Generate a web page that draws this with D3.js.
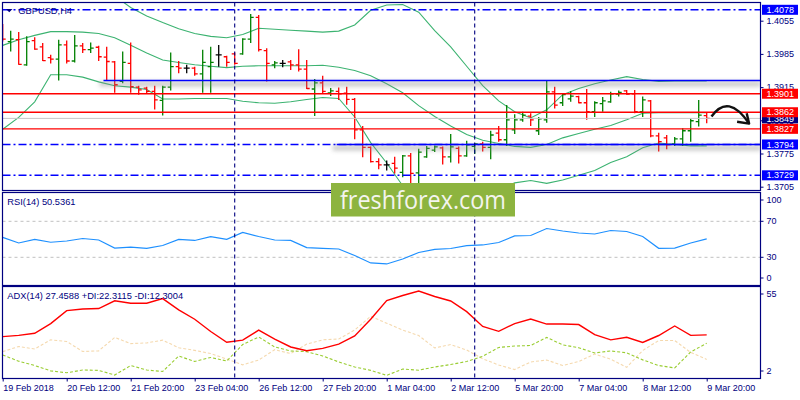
<!DOCTYPE html>
<html>
<head>
<meta charset="utf-8">
<script src="https://cdn.jsdelivr.net/npm/d3@7"></script>
<style>
  body { margin: 0; background: #fff; }
  svg { display: block; font-family: "Liberation Sans", Arial, sans-serif; }
</style>
</head>
<body>
<div id="chart"></div>
<script>
// GBPUSD H4 bars, one per 4 hours (O/H/L/C)
const open = [1.4043, 1.4011, 1.4015, 1.3962, 1.4013, 1.4000, 1.3977, 1.3974, 1.4004, 1.3970,
  1.4002, 1.3994, 1.3999, 1.3978, 1.3968, 1.3927, 1.3965, 1.3915, 1.3913, 1.3906,
  1.3887, 1.3915, 1.3958, 1.3955, 1.3955, 1.3943, 1.3958, 1.3983, 1.3979, 1.3985,
  1.3985, 1.4016, 1.4062, 1.3992, 1.3962, 1.3965, 1.3968, 1.3962, 1.3953, 1.3911,
  1.3924, 1.3903, 1.3906, 1.3902, 1.3889, 1.3825, 1.3788, 1.3758, 1.3751, 1.3754,
  1.3735, 1.3770, 1.3734, 1.3768, 1.3782, 1.3787, 1.3768, 1.3786, 1.3770, 1.3790,
  1.3795, 1.3788, 1.3818, 1.3804, 1.3825, 1.3846, 1.3854, 1.3823, 1.3846, 1.3905,
  1.3882, 1.3890, 1.3895, 1.3882, 1.3863, 1.3880, 1.3884, 1.3900, 1.3907, 1.3901,
  1.3863, 1.3886, 1.3812, 1.3808, 1.3795, 1.3806, 1.3823, 1.3842, 1.3855];
const high = [1.4048, 1.4034, 1.4031, 1.4022, 1.4020, 1.4008, 1.3983, 1.4015, 1.4013, 1.4025,
  1.4008, 1.4009, 1.4002, 1.4000, 1.3970, 1.3990, 1.4009, 1.3918, 1.3916, 1.3918,
  1.3918, 1.3988, 1.3970, 1.3962, 1.3958, 1.3994, 1.4000, 1.4004, 1.3981, 1.3988,
  1.4018, 1.4069, 1.4067, 1.3997, 1.3970, 1.3972, 1.3972, 1.3995, 1.3972, 1.3932,
  1.3939, 1.3913, 1.3914, 1.3916, 1.3892, 1.3833, 1.3790, 1.3765, 1.3760, 1.3768,
  1.3772, 1.3776, 1.3785, 1.3791, 1.3792, 1.3790, 1.3816, 1.3790, 1.3802, 1.3797,
  1.3800, 1.3823, 1.3833, 1.3877, 1.3858, 1.3863, 1.3860, 1.3852, 1.3930, 1.3916,
  1.3902, 1.3906, 1.3897, 1.3911, 1.3885, 1.3894, 1.3905, 1.3908, 1.3909, 1.3909,
  1.3895, 1.3888, 1.3819, 1.3814, 1.3810, 1.3828, 1.3849, 1.3888, 1.3861];
const low = [1.4011, 1.3990, 1.3962, 1.3960, 1.3994, 1.3970, 1.3965, 1.3929, 1.3965, 1.3967,
  1.3987, 1.3987, 1.3970, 1.3930, 1.3903, 1.3923, 1.3903, 1.3899, 1.3902, 1.3868,
  1.3855, 1.3908, 1.3944, 1.3944, 1.3939, 1.3903, 1.3903, 1.3958, 1.3958, 1.3962,
  1.3983, 1.4008, 1.3990, 1.3927, 1.3955, 1.3957, 1.3951, 1.3948, 1.3911, 1.3854,
  1.3901, 1.3896, 1.3888, 1.3878, 1.3805, 1.3767, 1.3756, 1.3742, 1.3739, 1.3733,
  1.3725, 1.3711, 1.3711, 1.3766, 1.3778, 1.3752, 1.3756, 1.3754, 1.3768, 1.3774,
  1.3779, 1.3763, 1.3800, 1.3791, 1.3816, 1.3842, 1.3833, 1.3814, 1.3840, 1.3870,
  1.3875, 1.3884, 1.3881, 1.3846, 1.3852, 1.3863, 1.3882, 1.3895, 1.3899, 1.3860,
  1.3852, 1.3809, 1.3779, 1.3784, 1.3791, 1.3791, 1.3800, 1.3832, 1.3839];
const close = [1.4016, 1.4016, 1.3963, 1.4011, 1.3995, 1.3971, 1.3974, 1.4004, 1.3970, 1.4002,
  1.3994, 1.3997, 1.3979, 1.3969, 1.3920, 1.3967, 1.3916, 1.3909, 1.3906, 1.3888,
  1.3915, 1.3958, 1.3955, 1.3955, 1.3943, 1.3967, 1.3967, 1.3983, 1.3967, 1.3965,
  1.4016, 1.4062, 1.3994, 1.3965, 1.3966, 1.3965, 1.3962, 1.3953, 1.3912, 1.3924,
  1.3906, 1.3907, 1.3901, 1.3889, 1.3825, 1.3788, 1.3758, 1.3751, 1.3751, 1.3744,
  1.3770, 1.3733, 1.3778, 1.3786, 1.3789, 1.3768, 1.3789, 1.3770, 1.3793, 1.3795,
  1.3788, 1.3814, 1.3804, 1.3846, 1.3846, 1.3856, 1.3846, 1.3848, 1.3905, 1.3877,
  1.3899, 1.3896, 1.3882, 1.3863, 1.3882, 1.3886, 1.3901, 1.3904, 1.3900, 1.3863,
  1.3888, 1.3812, 1.3800, 1.3793, 1.3806, 1.3823, 1.3844, 1.3856, 1.3849];

// indicator values read at every second bar (bar 0, 2, 4 ... 88)
const bbUpper = [1.4179, 1.4179, 1.4164, 1.4123, 1.4122, 1.4126, 1.4129, 1.4107, 1.4083, 1.4065,
  1.4051, 1.4038, 1.4028, 1.4022, 1.4019, 1.4026, 1.4039, 1.4037, 1.4035, 1.4033,
  1.4031, 1.4033, 1.4046, 1.4077, 1.4088, 1.4089, 1.4073, 1.4034, 1.4000, 1.3959,
  1.3918, 1.3886, 1.3863, 1.3850, 1.3867, 1.3899, 1.3912, 1.3922, 1.3930, 1.3937,
  1.3931, 1.3927, 1.3928, 1.3928, 1.3928];
const bbMiddle = [1.4003, 1.4015, 1.4024, 1.4032, 1.4032, 1.4031, 1.4028, 1.4019, 1.4003, 1.3987,
  1.3972, 1.3967, 1.3962, 1.3959, 1.3956, 1.3959, 1.3960, 1.3960, 1.3960, 1.3960,
  1.3961, 1.3957, 1.3950, 1.3939, 1.3922, 1.3903, 1.3876, 1.3853, 1.3833, 1.3815,
  1.3803, 1.3796, 1.3790, 1.3788, 1.3794, 1.3808, 1.3817, 1.3826, 1.3834, 1.3846,
  1.3860, 1.3861, 1.3861, 1.3861, 1.3861];
const bbLower = [1.3826, 1.3851, 1.3884, 1.3941, 1.3941, 1.3936, 1.3926, 1.3918, 1.3915, 1.3910,
  1.3890, 1.3890, 1.3891, 1.3891, 1.3891, 1.3885, 1.3882, 1.3881, 1.3884, 1.3889,
  1.3893, 1.3891, 1.3852, 1.3798, 1.3755, 1.3707, 1.3677, 1.3662, 1.3664, 1.3673,
  1.3683, 1.3698, 1.3713, 1.3718, 1.3712, 1.3719, 1.3729, 1.3739, 1.3756, 1.3768,
  1.3787, 1.3797, 1.3794, 1.3791, 1.3791];
const rsi = [52.2, 45.9, 49.8, 46.7, 48.1, 50.9, 49.2, 40.3, 41.4, 40.0,
  43.1, 49.8, 48.7, 52.9, 50.0, 57.6, 53.1, 49.2, 48.7, 40.7,
  40.0, 39.2, 32.0, 23.7, 22.6, 28.1, 35.3, 38.7, 39.8, 42.9,
  43.7, 46.4, 53.7, 54.2, 62.0, 59.2, 57.0, 55.9, 59.8, 58.7,
  53.1, 40.0, 40.3, 45.9, 50.5];
const adx = [26.4, 27.2, 28.5, 34.5, 42.5, 43.5, 43.8, 48.6, 47.1, 47.1,
  50.0, 43.0, 37.2, 29.6, 22.9, 24.2, 30.4, 24.9, 20.0, 17.7,
  19.1, 21.8, 26.8, 37.2, 48.7, 51.9, 54.7, 51.3, 48.5, 41.9,
  32.7, 29.7, 34.5, 37.3, 34.2, 34.2, 33.9, 27.6, 24.4, 26.0,
  22.8, 27.1, 33.0, 27.2, 27.5];
const plusDi = [15.0, 11.2, 8.5, 5.2, 4.0, 5.7, 5.5, 2.6, 8.5, 5.7,
  4.8, 14.4, 11.0, 13.5, 11.3, 21.5, 26.2, 20.0, 17.5, 17.1,
  14.4, 10.7, 7.6, 5.5, 2.4, 6.3, 5.6, 7.6, 9.1, 11.0,
  14.2, 19.7, 20.6, 20.9, 25.9, 21.3, 19.5, 16.3, 17.5, 16.4,
  12.0, 8.5, 7.0, 16.9, 22.3];
const minusDi = [17.1, 20.3, 18.7, 24.4, 23.4, 17.2, 17.6, 25.9, 22.1, 22.5,
  24.2, 19.5, 17.9, 15.9, 12.5, 8.9, 11.9, 18.3, 15.9, 21.8,
  24.4, 24.9, 30.5, 39.0, 34.7, 30.5, 27.1, 19.4, 21.5, 18.1,
  12.7, 8.8, 6.0, 10.7, 11.9, 8.5, 11.0, 15.6, 12.4, 7.4,
  17.8, 24.0, 24.0, 16.6, 12.3];

const priceTicks = [1.4055, 1.3985, 1.3915, 1.3845, 1.3775, 1.3705];
const timeLabels = ["19 Feb 2018", "20 Feb 12:00", "21 Feb 20:00", "23 Feb 04:00", "26 Feb 12:00",
  "27 Feb 20:00", "1 Mar 04:00", "2 Mar 12:00", "5 Mar 20:00", "7 Mar 04:00", "8 Mar 12:00", "9 Mar 20:00"];
const rsiTicks = [100, 70, 30, 0];
const rsiLevels = [70, 30];
const adxTicks = [55, 2];

const redLevels = [1.3901, 1.3862, 1.3827];
const dashLevels = [1.4078, 1.3794, 1.3729];
const trendLevels = [1.3929, 1.3794];
const trendStarts = [12.6, 41.75];
const bidPrice = 1.3849;
const separators = [29, 59];

const symbolLabel = "GBPUSD,H4";
const rsiLabel = "RSI(14) 50.5361";
const adxLabel = "ADX(14) 27.4588 +DI:22.3115 -DI:12.3004";

const navy = "#000080";
const left = 2.5, right = 760.5;
const panes = {
  main: { top: 2.5, bottom: 190.5 },
  rsi: { top: 192.5, bottom: 285.5 },
  adx: { top: 286.5, bottom: 378.5 }
};

const x = d3.scaleLinear().domain([0, 88]).range([2.7, 706.7]);
const y = d3.scaleLinear().domain([1.3705, 1.4055]).range([186.7, 20.7]);
const yRsi = d3.scaleLinear().domain([30, 70]).range([257.3, 221.3]);
const yAdx = d3.scaleLinear().domain([2, 55]).range([376, 290.5]);

const svg = d3.select("#chart")
  .append("svg")
  .attr("width", 800)
  .attr("height", 400);

const defs = svg.append("defs");
Object.entries(panes).forEach(([name, p]) => {
  defs.append("clipPath").attr("id", "clip-" + name)
    .append("rect")
    .attr("x", left).attr("y", p.top)
    .attr("width", right - left).attr("height", p.bottom - p.top);
});
defs.append("filter").attr("id", "shadow")
  .attr("x", "-5%").attr("y", "-200%").attr("width", "110%").attr("height", "500%")
  .append("feGaussianBlur").attr("stdDeviation", 2.2);

function hLine(g, v, scale, color, width, dash, x0) {
  g.append("line")
    .attr("x1", x0 === undefined ? left : x0).attr("x2", right)
    .attr("y1", scale(v)).attr("y2", scale(v))
    .attr("stroke", color)
    .attr("stroke-width", width)
    .attr("stroke-dasharray", dash || null);
}

function clampLabel(v, scale, p) {
  return Math.max(p.top + 7.5, Math.min(p.bottom - 7.5, scale(v)));
}

function drawMainPane() {
  const g = svg.append("g").attr("clip-path", "url(#clip-main)");
  const idx = (d, k) => x(k * 2);

  [bbUpper, bbMiddle, bbLower].forEach(band => {
    g.append("path")
      .datum(band)
      .attr("fill", "none")
      .attr("stroke", "#3cb371")
      .attr("stroke-width", 1.1)
      .attr("d", d3.line().x(idx).y(d => y(d)));
  });

  const barData = open.map((o, i) => ({ i, o, h: high[i], l: low[i], c: close[i] }));
  const barColor = d => d.c > d.o ? "#008000" : d.c < d.o ? "#ff0000" : "#000000";
  const bars = g.append("g").selectAll("g")
    .data(barData)
    .join("g")
    .attr("stroke", barColor)
    .attr("stroke-width", 1.3);
  bars.append("line")
    .attr("x1", d => x(d.i)).attr("x2", d => x(d.i))
    .attr("y1", d => y(d.h)).attr("y2", d => y(d.l));
  bars.append("line")
    .attr("x1", d => x(d.i) - 3).attr("x2", d => x(d.i))
    .attr("y1", d => y(d.o)).attr("y2", d => y(d.o));
  bars.append("line")
    .attr("x1", d => x(d.i)).attr("x2", d => x(d.i) + 3)
    .attr("y1", d => y(d.c)).attr("y2", d => y(d.c));

  hLine(g, bidPrice, y, "#c8c8c8", 1);
  dashLevels.forEach(v => hLine(g, v, y, "#0000ff", 1.4, "8,3,2,3"));
  redLevels.forEach(v => hLine(g, v, y, "#ff0000", 1.4));

  trendLevels.forEach((v, k) => {
    g.append("rect")
      .attr("x", x(trendStarts[k]) - 4).attr("y", y(v) + 1)
      .attr("width", right - x(trendStarts[k]) + 4).attr("height", 5)
      .attr("fill", "#888")
      .attr("opacity", 0.45)
      .attr("filter", "url(#shadow)");
    hLine(g, v, y, "#0000ff", 1.5, null, x(trendStarts[k]));
  });

  // hand-drawn arrow (bar index, price)
  const arc = [[88.6, 1.3853], [90.7, 1.3903], [93.3, 1.3838]];
  const head = [[91.8, 1.3842], [93.3, 1.3838], [93.0, 1.3860]];
  svg.append("path")
    .attr("d", `M${x(arc[0][0])},${y(arc[0][1])} Q${x(arc[1][0])},${y(arc[1][1])} ${x(arc[2][0])},${y(arc[2][1])}`)
    .attr("fill", "none").attr("stroke", "#111").attr("stroke-width", 2.4);
  svg.append("path")
    .attr("d", d3.line().x(d => x(d[0])).y(d => y(d[1]))(head))
    .attr("fill", "none").attr("stroke", "#111").attr("stroke-width", 2.4)
    .attr("stroke-linejoin", "round");

  // price axis
  const axis = svg.append("g")
    .attr("transform", `translate(${right},0)`)
    .call(d3.axisRight(y).tickValues(priceTicks).tickFormat(d3.format(".4f")).tickSize(3));
  axis.select(".domain").remove();
  axis.selectAll("line").attr("stroke", navy);
  axis.selectAll("text").attr("fill", navy).attr("font-size", 9);

  const boxes = [
    { v: bidPrice, c: navy },
    { v: 1.4078, c: "#0000ff" },
    { v: 1.3901, c: "#ff0000" },
    { v: 1.3862, c: "#ff0000" },
    { v: 1.3827, c: "#ff0000" },
    { v: 1.3794, c: "#0000ff" },
    { v: 1.3729, c: "#0000ff" }
  ];
  const bg = svg.append("g").selectAll("g").data(boxes).join("g")
    .attr("transform", d => `translate(762,${Math.max(8.3, y(d.v))})`);
  bg.append("rect").attr("x", 0).attr("y", -5).attr("width", 36).attr("height", 10)
    .attr("fill", d => d.c);
  bg.append("text").attr("x", 4.5).attr("dy", "0.35em")
    .attr("fill", "#fff").attr("font-size", 9)
    .text(d => d.v.toFixed(4));

  svg.append("path")
    .attr("d", "M6,9 L12.5,9 L9.25,12.3 Z")
    .attr("fill", navy);
  svg.append("text")
    .attr("x", 18.3).attr("y", 13.6)
    .attr("fill", navy).attr("font-size", 9.3)
    .text(symbolLabel);
}

function drawRsiPane() {
  const p = panes.rsi;
  const g = svg.append("g").attr("clip-path", "url(#clip-rsi)");
  rsiLevels.forEach(v => hLine(g, v, yRsi, "#c0c0c0", 1, "3,3"));
  g.append("path")
    .datum(rsi)
    .attr("fill", "none")
    .attr("stroke", "#1e90ff")
    .attr("stroke-width", 1.2)
    .attr("d", d3.line().x((d, k) => x(k * 2)).y(d => yRsi(d)));

  const axis = svg.append("g")
    .attr("transform", `translate(${right},0)`)
    .call(d3.axisRight(yRsi).tickValues(rsiTicks).tickSize(3));
  axis.select(".domain").remove();
  axis.selectAll(".tick").attr("transform", d => `translate(0,${clampLabel(d, yRsi, p)})`);
  axis.selectAll("line").attr("stroke", navy);
  axis.selectAll("text").attr("fill", navy).attr("font-size", 9);

  svg.append("text")
    .attr("x", 7.3).attr("y", 205)
    .attr("fill", navy).attr("font-size", 9.3)
    .text(rsiLabel);
}

function drawAdxPane() {
  const p = panes.adx;
  const g = svg.append("g").attr("clip-path", "url(#clip-adx)");
  const line = d3.line().x((d, k) => x(k * 2)).y(d => yAdx(d));

  g.append("path").datum(minusDi)
    .attr("fill", "none").attr("stroke", "#f5d9ae").attr("stroke-width", 1.1)
    .attr("stroke-dasharray", "3,2").attr("d", line);
  g.append("path").datum(plusDi)
    .attr("fill", "none").attr("stroke", "#9acd32").attr("stroke-width", 1.1)
    .attr("stroke-dasharray", "3,2").attr("d", line);
  g.append("path").datum(adx)
    .attr("fill", "none").attr("stroke", "#ff0000").attr("stroke-width", 1.4)
    .attr("d", line);

  const axis = svg.append("g")
    .attr("transform", `translate(${right},0)`)
    .call(d3.axisRight(yAdx).tickValues(adxTicks).tickSize(3));
  axis.select(".domain").remove();
  axis.selectAll(".tick").attr("transform", d => `translate(0,${clampLabel(d, yAdx, p)})`);
  axis.selectAll("line").attr("stroke", navy);
  axis.selectAll("text").attr("fill", navy).attr("font-size", 9);

  svg.append("text")
    .attr("x", 7.3).attr("y", 299)
    .attr("fill", navy).attr("font-size", 9.3)
    .text(adxLabel);
}

function drawTimeAxis() {
  const axis = svg.append("g")
    .attr("transform", `translate(0,${panes.adx.bottom})`)
    .call(d3.axisBottom(x).tickValues(d3.range(0, 89, 8))
      .tickFormat((d, i) => timeLabels[i]).tickSize(3));
  axis.select(".domain").remove();
  axis.selectAll("line").attr("stroke", navy);
  axis.selectAll("text")
    .attr("fill", navy).attr("font-size", 9)
    .attr("text-anchor", "start");
}

function drawFrames() {
  Object.values(panes).forEach(p => {
    svg.append("rect")
      .attr("x", left).attr("y", p.top)
      .attr("width", right - left).attr("height", p.bottom - p.top)
      .attr("fill", "none").attr("stroke", navy).attr("stroke-width", 1.2);
  });
  separators.forEach(i => {
    svg.append("line")
      .attr("x1", x(i)).attr("x2", x(i))
      .attr("y1", panes.main.top).attr("y2", panes.adx.bottom)
      .attr("stroke", navy).attr("stroke-width", 1.1)
      .attr("stroke-dasharray", "4,3");
  });
}

function drawBanner() {
  svg.append("rect")
    .attr("x", 331).attr("y", 183)
    .attr("width", 184).attr("height", 33.5)
    .attr("fill", "#8db43f");
  svg.append("text")
    .attr("x", 340).attr("y", 208.5)
    .attr("font-family", "'Open Sans', sans-serif")
    .attr("font-size", 25)
    .attr("fill", "#f4f4ee")
    .attr("textLength", 166)
    .attr("lengthAdjust", "spacingAndGlyphs")
    .text("freshforex.com");
}

drawMainPane();
drawRsiPane();
drawAdxPane();
drawTimeAxis();
drawFrames();
drawBanner();
</script>
</body>
</html>
